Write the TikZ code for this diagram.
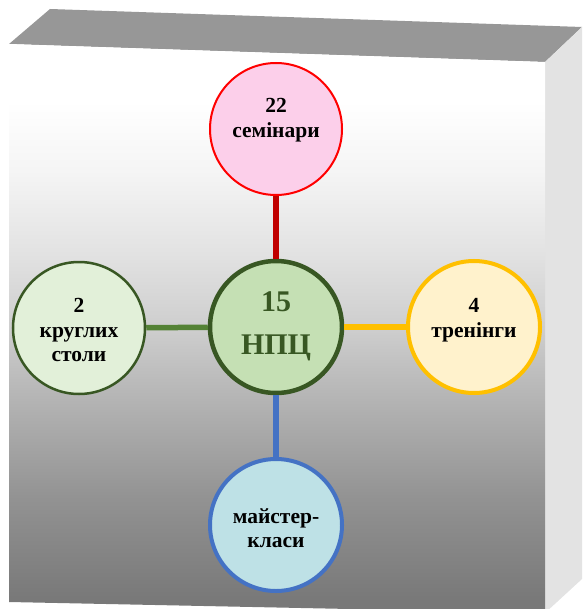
\documentclass[tikz,border=0pt]{standalone}
\usepackage{fontspec}
\setmainfont{Liberation Serif}
\definecolor{topF}{HTML}{979797}
\definecolor{sideF}{HTML}{E3E3E3}
\definecolor{sA}{HTML}{787878}
\definecolor{sB}{HTML}{929292}
\definecolor{sC}{HTML}{B0B0B0}
\definecolor{sD}{HTML}{CDCDCD}
\definecolor{sE}{HTML}{E3E3E3}
\definecolor{sF}{HTML}{F5F5F5}
\definecolor{pinkF}{HTML}{FCCFEA}
\definecolor{redB}{HTML}{FF0000}
\definecolor{redC}{HTML}{C00000}
\definecolor{lgreenF}{HTML}{E2F0D9}
\definecolor{cgreenF}{HTML}{C5E0B4}
\definecolor{dgreen}{HTML}{385723}
\definecolor{greenC}{HTML}{548235}
\definecolor{yellowF}{HTML}{FFF2CC}
\definecolor{yellowB}{HTML}{FFC000}
\definecolor{blueF}{HTML}{BEE1E6}
\definecolor{blueB}{HTML}{4472C4}
\pgfdeclareverticalshading{frontshade}{100bp}{color(0bp)=(sA); color(26bp)=(sA); color(35bp)=(sB); color(42.8bp)=(sC); color(49.8bp)=(sD); color(56.9bp)=(sE); color(63.9bp)=(sF); color(70bp)=(white); color(100bp)=(white)}
\begin{document}
\begin{tikzpicture}[x=1pt,y=-1pt,
  bubble/.style={circle, minimum size=132pt, inner sep=0pt},
  conn/.style={line width=5.5pt},
  lbl/.style={align=center, inner sep=0pt, font=\bfseries\fontsize{21.5}{24.5}\selectfont},
  biglbl/.style={align=center, inner sep=0pt, font=\bfseries\fontsize{30}{43}\selectfont, text=dgreen}]
\useasboundingbox (0,0) rectangle (582,609);
\begin{scope}
\clip (0,0) rectangle (582,609);
\fill[topF] (9,44) -- (50,9) -- (582,27) -- (545,62) -- cycle;
\fill[sideF] (545,62) -- (582,27) -- (582,579) -- (545,613) -- cycle;
\path[shading=frontshade] (9,44) -- (545,62) -- (545,613) -- (9,602) -- cycle;
\end{scope}
\node[bubble, fill=pinkF, draw=redB, line width=2pt] (sem) at (276,129) {};
\node[bubble, fill=lgreenF, draw=dgreen, line width=2.5pt] (kr) at (79,328) {};
\node[bubble, fill=cgreenF, draw=dgreen, line width=4.5pt] (npc) at (276,327) {};
\node[bubble, fill=yellowF, draw=yellowB, line width=4pt] (tr) at (474,327) {};
\node[bubble, fill=blueF, draw=blueB, line width=4pt] (mk) at (276,525) {};
\draw[conn, redC] (sem) -- (npc);
\draw[conn, greenC] (kr) -- (npc);
\draw[conn, yellowB] (npc) -- (tr);
\draw[conn, blueB] (npc) -- (mk);
\node[lbl] (semT) at (276,120) {22\\семінари};
\node[lbl] (krT) at (79,330) {2\\круглих\\столи};
\node[lbl] (trT) at (474,320) {4\\тренінги};
\node[biglbl] (npcT) at (276,326) {15\\НПЦ};
\node[lbl] (mkT) at (276,528) {майстер-\\класи};
\end{tikzpicture}
\end{document}
